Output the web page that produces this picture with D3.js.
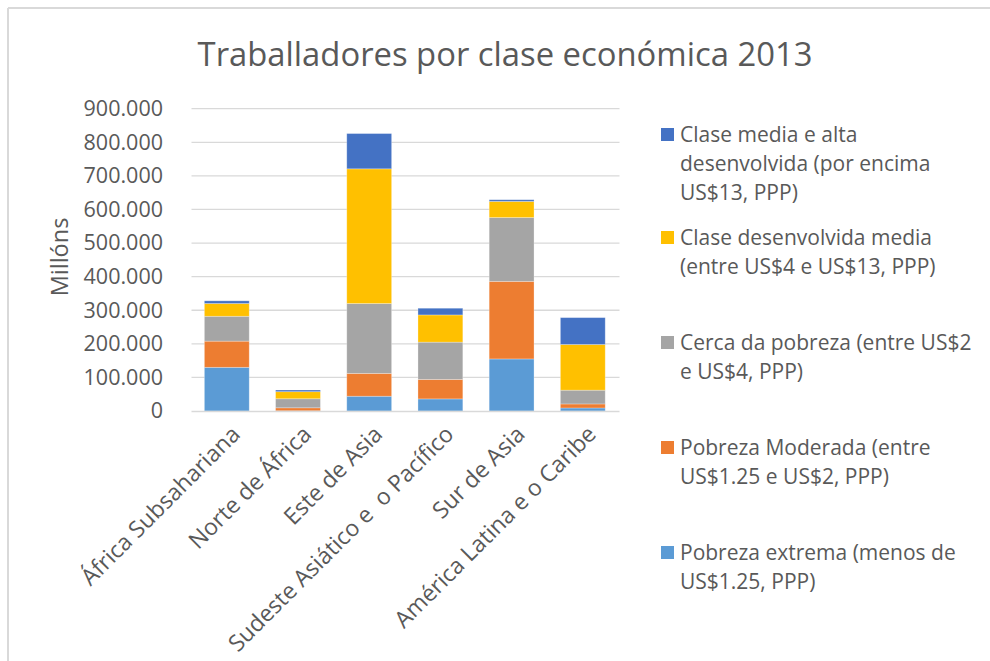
<!DOCTYPE html>
<html>
<head>
<meta charset="utf-8">
<script src="https://cdn.jsdelivr.net/npm/d3@7"></script>
<style>
  body { margin: 0; background: #fff; }
  text { font-family: "Open Sans", sans-serif; fill: #595959; }
</style>
</head>
<body>
<svg id="chart"></svg>
<script>
var width = 990, height = 661

// values in thousands (axis reads 900.000 = 900 millóns)
var regions = ["África Subsahariana", "Norte de África", "Este de Asia",
    "Sudeste Asiático e  o Pacífico", "Sur de Asia", "América Latina e o Caribe"]
var extrema = [130000, 500, 44000, 36000, 155000, 9000]
var moderada = [78000, 9000, 68000, 58000, 231000, 12000]
var cerca = [74000, 27000, 208000, 111000, 190000, 41000]
var media = [38000, 21000, 401000, 81000, 48000, 136000]
var alta = [8000, 5000, 105000, 20000, 5000, 80000]
var yTicks = [0, 100000, 200000, 300000, 400000, 500000, 600000, 700000, 800000, 900000]

var seriesNames = ["extrema", "moderada", "cerca", "media", "alta"]
var seriesColours = {
    extrema: "#5b9bd5",
    moderada: "#ed7d31",
    cerca: "#a5a5a5",
    media: "#ffc000",
    alta: "#4472c4"
}
var legendLabels = {
    alta: ["Clase media e alta", "desenvolvida (por encima", "US$13, PPP)"],
    media: ["Clase desenvolvida media", "(entre US$4 e US$13, PPP)"],
    cerca: ["Cerca da pobreza (entre US$2", "e US$4, PPP)"],
    moderada: ["Pobreza Moderada (entre", "US$1.25 e US$2, PPP)"],
    extrema: ["Pobreza extrema (menos de", "US$1.25, PPP)"]
}
var legendOrder = ["alta", "media", "cerca", "moderada", "extrema"]

var table = regions.map(function(r, i) {
    return {region: r, extrema: extrema[i], moderada: moderada[i], cerca: cerca[i], media: media[i], alta: alta[i]}
})

var svg = d3.select("#chart")
    .attr("width", width)
    .attr("height", height)

// frame (only top and left edges visible in the picture)
svg.append("line").attr("x1", 8).attr("x2", width).attr("y1", 8).attr("y2", 8)
    .attr("stroke", "#d9d9d9").attr("stroke-width", 2)
svg.append("line").attr("x1", 8).attr("x2", 8).attr("y1", 8).attr("y2", height)
    .attr("stroke", "#d9d9d9").attr("stroke-width", 2)

svg.append("text")
    .attr("x", 505)
    .attr("y", 66)
    .attr("text-anchor", "middle")
    .style("font-size", "32.8px")
    .text("Traballadores por clase económica 2013")

var x = d3.scaleBand()
    .domain(regions)
    .range([191.2, 618.4])
    .paddingInner(0.37)
    .paddingOuter(0.185)

var y = d3.scaleLinear()
    .domain([0, 900000])
    .range([411, 108.7])

var loc = d3.formatLocale({decimal: ",", thousands: ".", grouping: [3], currency: ["", ""]})
var fmt = loc.format(",.0f")

// gridlines
svg.append("g")
    .selectAll("line")
    .data(yTicks.filter(d => d > 0))
    .enter()
    .append("line")
    .attr("x1", 191.5)
    .attr("x2", 619.5)
    .attr("y1", d => y(d))
    .attr("y2", d => y(d))
    .attr("stroke", "#d9d9d9")
    .attr("stroke-width", 1.3)

var yAxis = svg.append("g")
    .attr("transform", "translate(170,0)")
    .call(d3.axisLeft(y).tickValues(yTicks).tickFormat(fmt).tickSize(0).tickPadding(7))
yAxis.select(".domain").remove()
yAxis.selectAll("text")
    .style("font-size", "21.5px")
    .style("font-family", "'Open Sans', sans-serif")
    .attr("fill", "#595959")

svg.append("text")
    .attr("transform", "translate(68,257) rotate(-90)")
    .attr("text-anchor", "middle")
    .style("font-size", "23.5px")
    .text("Millóns")

var stack = d3.stack().keys(seriesNames)
var layers = stack(table)

svg.append("g")
    .selectAll("g")
    .data(layers)
    .enter()
    .append("g")
    .attr("fill", d => seriesColours[d.key])
    .selectAll("rect")
    .data(d => d)
    .enter()
    .append("rect")
    .attr("x", d => x(d.data.region))
    .attr("width", x.bandwidth())
    .attr("y", d => y(d[1]))
    .attr("height", d => y(d[0]) - y(d[1]))
    .attr("stroke", "#ffffff")
    .attr("stroke-opacity", 0.35)
    .attr("stroke-width", 0.8)

// category axis line
svg.append("line")
    .attr("x1", 191.5).attr("x2", 619.5)
    .attr("y1", 411.5).attr("y2", 411.5)
    .attr("stroke", "#d9d9d9")
    .attr("stroke-width", 1.3)

svg.append("g")
    .selectAll("text")
    .data(regions)
    .enter()
    .append("text")
    .attr("transform", d => "translate(" + (x(d) + x.bandwidth() / 2 + 9) + ",430) rotate(-45)")
    .attr("text-anchor", "end")
    .attr("dy", "0.35em")
    .style("font-size", "23px")
    .style("white-space", "pre")
    .text(d => d)

// legend
var lineH = 29
var startY = [135, 238, 343, 448, 553]
var legend = svg.append("g")
legendOrder.forEach(function(key, i) {
    var g = legend.append("g").attr("transform", "translate(0," + startY[i] + ")")
    g.append("rect")
        .attr("x", 661).attr("y", -7)
        .attr("width", 13).attr("height", 13)
        .attr("fill", seriesColours[key])
    g.append("text")
        .attr("x", 680)
        .attr("y", 0)
        .style("font-size", "21px")
        .selectAll("tspan")
        .data(legendLabels[key])
        .enter()
        .append("tspan")
        .attr("x", 680)
        .attr("dy", (d, j) => j == 0 ? "0.35em" : lineH)
        .text(d => d)
})
</script>
</body>
</html>
